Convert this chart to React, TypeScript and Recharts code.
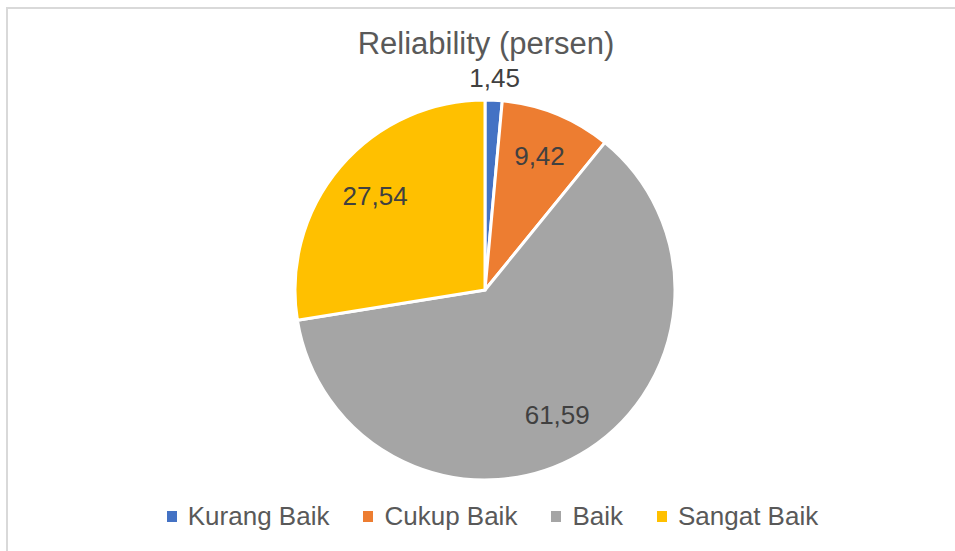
import React from 'react';
import { PieChart, Pie, Cell, Legend } from 'recharts';

const categories = ['Kurang Baik', 'Cukup Baik', 'Baik', 'Sangat Baik'];
const values = [1.45, 9.42, 61.59, 27.54];
const labels = ['1,45', '9,42', '61,59', '27,54'];
const colors = ['#4472C4', '#ED7D31', '#A5A5A5', '#FFC000'];

const data = categories.map((name, i) => ({ name, value: values[i], label: labels[i] }));

const FONT = '"Liberation Sans", Arial, sans-serif';
const RAD = Math.PI / 180;

// Excel-style "best fit": inside for the big slices, just outside for the tiny one
const renderLabel = (props: any) => {
  const { cx, cy, midAngle, outerRadius, index } = props;
  const small = values[index] < 3;
  const r = small ? outerRadius + 22 : outerRadius * 0.76;
  const x = cx + r * Math.cos(-midAngle * RAD);
  const y = cy + r * Math.sin(-midAngle * RAD);
  return (
    <text x={x} y={y} fill="#404040" fontSize={26} fontFamily={FONT} textAnchor="middle" dominantBaseline="central">
      {labels[index]}
    </text>
  );
};

const renderLegend = () => (
  <div style={{ display: 'flex', justifyContent: 'center', gap: 34, fontFamily: FONT, fontSize: 26, color: '#595959', paddingLeft: 30 }}>
    {categories.map((c, i) => (
      <div key={c} style={{ display: 'flex', alignItems: 'center' }}>
        <span style={{ width: 10, height: 11, background: colors[i], display: 'inline-block', marginRight: 11 }} />
        <span>{c}</span>
      </div>
    ))}
  </div>
);

const App: React.FC = () => {
  return (
    <div style={{ position: 'absolute', left: 0, top: 0, width: 955, height: 551, background: '#fff', overflow: 'hidden' }}>
      {/* chart frame, right/bottom edges fall outside the shot */}
      <div style={{ position: 'absolute', left: 6, top: 7, width: 980, height: 580, border: '2px solid #d9d9d9' }} />
      <div style={{ position: 'absolute', left: 0, top: 30, width: 972, textAlign: 'center', fontFamily: FONT, fontSize: 31, lineHeight: '28px', color: '#595959' }}>
        Reliability (persen)
      </div>
      <div style={{ position: 'absolute', left: 0, top: 0 }}>
        <PieChart width={955} height={551} margin={{ top: 0, right: 0, bottom: 0, left: 0 }}>
          <Pie
            data={data}
            dataKey="value"
            nameKey="name"
            cx={485}
            cy={290}
            outerRadius={190}
            startAngle={90}
            endAngle={-270}
            stroke="#fff"
            strokeWidth={3}
            labelLine={false}
            label={renderLabel}
            isAnimationActive={false}
          >
            {data.map((d, i) => (
              <Cell key={d.name} fill={colors[i]} />
            ))}
          </Pie>
          <Legend content={renderLegend} wrapperStyle={{ top: 501, left: 0, width: 955 }} />
        </PieChart>
      </div>
    </div>
  );
};

export default App;
